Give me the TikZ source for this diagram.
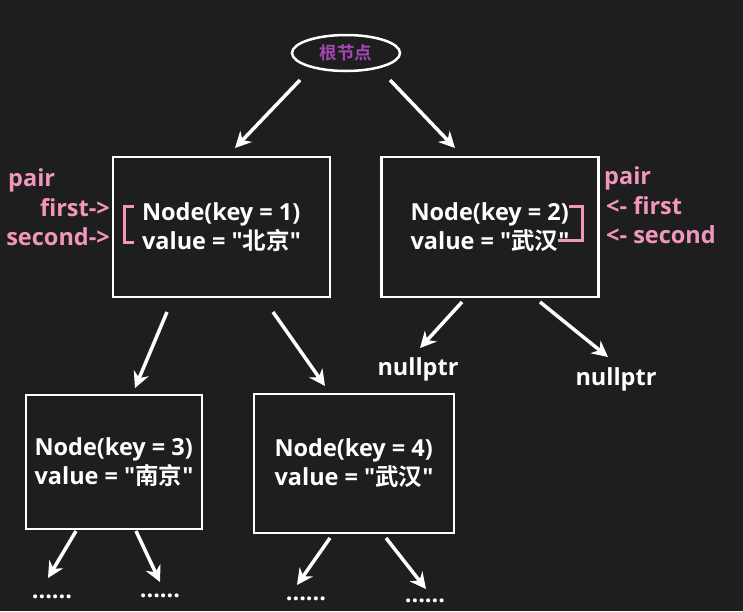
\documentclass[tikz,border=0pt]{standalone}
\usepackage{fontspec}
\setmainfont{Open Sans}[Ligatures=TeXOff]
\newfontfamily\cjk{Noto Sans CJK SC}[BoldFont={Noto Sans CJK SC Bold}, Ligatures=TeXOff]
\usetikzlibrary{arrows.meta,shapes.geometric}
\definecolor{bg}{RGB}{30,30,30}
\definecolor{pairpink}{RGB}{242,150,190}
\definecolor{rootpurple}{RGB}{165,70,180}

\tikzset{
    treebox/.style={draw=white, line width=2.5pt, minimum width=217pt, align=left,
        text=white, font=\fontsize{23.5}{29}\selectfont\bfseries},
    link/.style={draw=white, line width=3.5pt, -{Stealth[length=16pt,width=16pt]}},
    bracket/.style={draw=pairpink, line width=3pt},
    pairtext/.style={text=pairpink, font=\fontsize{23.5}{29}\selectfont\bfseries, inner sep=0pt},
    leaf/.style={text=white, font=\fontsize{23.5}{29}\selectfont\bfseries}
}

\begin{document}
\begin{tikzpicture}[x=1pt, y=-1pt]
    \fill[bg] (0,0) rectangle (743,611);
    \useasboundingbox (0,0) rectangle (743,611);

    % root
    \node[draw=white, line width=2.5pt, ellipse, minimum width=108pt, minimum height=36pt,
        text=rootpurple, font=\fontsize{17.5}{18}\selectfont\cjk\bfseries] (root) at (346,53) {根节点};

    % first level
    \node[treebox, minimum height=140pt] (n1) at (221.5,227) {Node(key = 1)\\value = "{\cjk 北京}"};
    \node[treebox, minimum height=140pt] (n2) at (490,227) {Node(key = 2)\\value = "{\cjk 武汉}"};

    % second level
    \node[treebox, minimum width=176pt, minimum height=134pt] (n3) at (114,462) {Node(key = 3)\\value = "{\cjk 南京}"};
    \node[treebox, minimum width=200pt, minimum height=139pt] (n4) at (354,463.5) {Node(key = 4)\\value = "{\cjk 武汉}"};

    % leaves
    \node[leaf] (null1) at (418,369) {nullptr};
    \node[leaf] (null2) at (616,379) {nullptr};
    \node[leaf] (d1) at (52,597) {......};
    \node[leaf] (d2) at (160,596) {......};
    \node[leaf] (d3) at (306,599) {......};
    \node[leaf] (d4) at (425,601) {......};

    % arrow ends
    \coordinate (r1) at (300,80);  \coordinate (r1e) at (235,148);
    \coordinate (r2) at (390,80);  \coordinate (r2e) at (455,148);
    \coordinate (a1) at (167,312); \coordinate (a1e) at (135,388);
    \coordinate (a2) at (273,312); \coordinate (a2e) at (325,386);
    \coordinate (b1) at (462,302); \coordinate (b1e) at (420,348);
    \coordinate (b2) at (540,302); \coordinate (b2e) at (608,357);
    \coordinate (c1) at (76,531);  \coordinate (c1e) at (48,578);
    \coordinate (c2) at (136,531); \coordinate (c2e) at (160,582);
    \coordinate (e1) at (330,538); \coordinate (e1e) at (297,585);
    \coordinate (e2) at (386,538); \coordinate (e2e) at (426,589);

    \draw[link] (r1) -- (r1e);
    \draw[link] (r2) -- (r2e);
    \draw[link] (a1) -- (a1e);
    \draw[link] (a2) -- (a2e);
    \draw[link] (b1) -- (b1e);
    \draw[link] (b2) -- (b2e);
    \draw[link] (c1) -- (c1e);
    \draw[link] (c2) -- (c2e);
    \draw[link] (e1) -- (e1e);
    \draw[link] (e2) -- (e2e);

    % pair brackets
    \draw[bracket] (134,206) -- (124,206) -- (124,242) -- (134,242);
    \draw[bracket] (569,206) -- (582,206) -- (582,240) -- (558,240);

    % pair labels
    \node[pairtext, anchor=west] (lpair) at (8,180) {pair};
    \node[pairtext, anchor=east] (lfirst) at (110,208) {first->};
    \node[pairtext, anchor=east] (lsecond) at (110,237) {second->};
    \node[pairtext, anchor=west] (rpair) at (604,178) {pair};
    \node[pairtext, anchor=west] (rfirst) at (606,206) {<- first};
    \node[pairtext, anchor=west] (rsecond) at (606,235) {<- second};
\end{tikzpicture}
\end{document}
